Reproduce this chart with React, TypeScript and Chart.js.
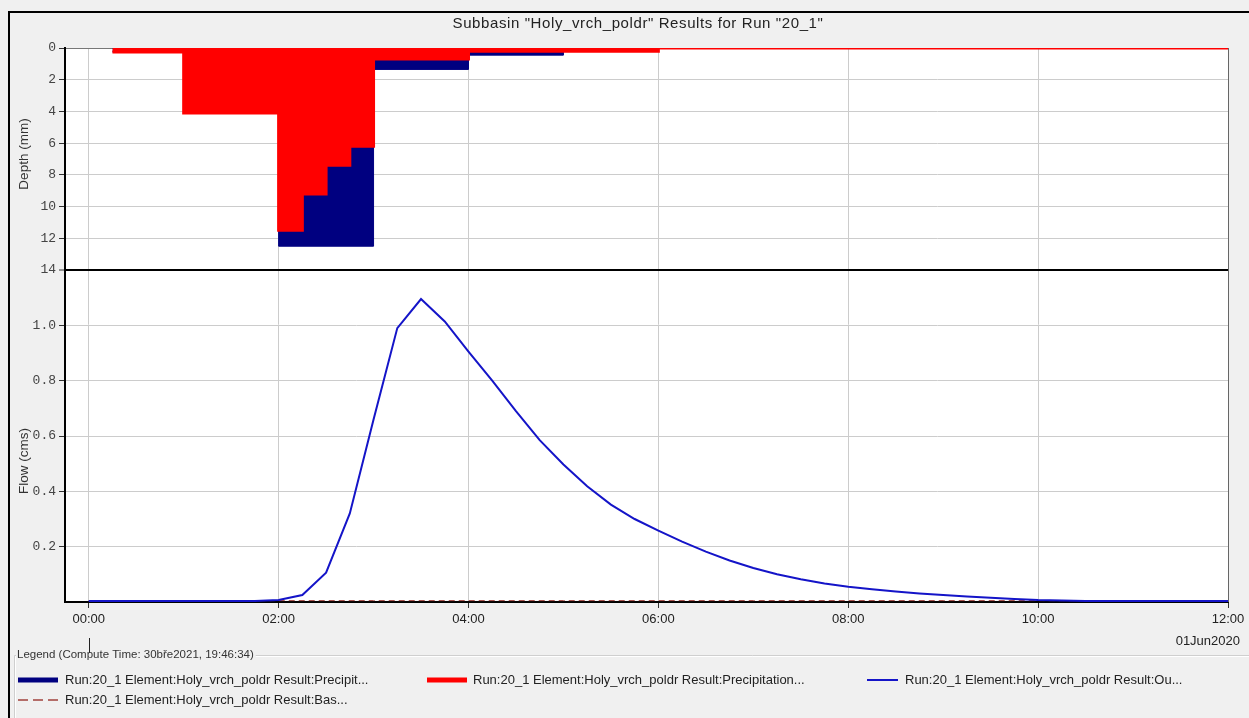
import React, { useEffect, useRef } from "react";
import { Chart, registerables } from "chart.js";

Chart.register(...registerables);

// ---------- text ----------
const chartTitle = 'Subbasin "Holy_vrch_poldr" Results for Run "20_1"';
const depthTitle = "Depth (mm)";
const flowTitle = "Flow (cms)";
const dateLabel = "01Jun2020";
const legendCaption = "Legend (Compute Time: 30bře2021, 19:46:34)";
const legendLabels = [
  "Run:20_1 Element:Holy_vrch_poldr Result:Precipit...",
  "Run:20_1 Element:Holy_vrch_poldr Result:Precipitation...",
  "Run:20_1 Element:Holy_vrch_poldr Result:Ou...",
  "Run:20_1 Element:Holy_vrch_poldr Result:Bas...",
];

// ---------- ticks ----------
const xTickHours = [0, 2, 4, 6, 8, 10, 12];
const depthTicks = [0, 2, 4, 6, 8, 10, 12, 14];
const flowTicks = [0.2, 0.4, 0.6, 0.8, 1.0];

// ---------- data ----------
// precipitation (total) – value held from the listed time to the next one
const precipTimes = ["00:15", "01:00", "02:00", "03:00", "04:00", "05:00", "06:00", "12:00"];
const precipDepth = [0.25, 4.1, 12.5, 1.35, 0.45, 0.2, 0, 0];

// precipitation loss – value held from the listed time to the next one
const lossTimes = ["00:15", "01:00", "02:00", "02:15", "02:30", "02:45", "03:00", "04:00", "05:00", "06:00", "12:00"];
const lossDepth = [0.25, 4.1, 11.5, 9.2, 7.4, 6.2, 0.7, 0.2, 0.2, 0, 0];

const flowTimes = [
  "00:00", "00:15", "00:30", "00:45", "01:00", "01:15", "01:30", "01:45",
  "02:00", "02:15", "02:30", "02:45", "03:00", "03:15", "03:30", "03:45",
  "04:00", "04:15", "04:30", "04:45", "05:00", "05:15", "05:30", "05:45",
  "06:00", "06:15", "06:30", "06:45", "07:00", "07:15", "07:30", "07:45",
  "08:00", "08:15", "08:30", "08:45", "09:00", "09:15", "09:30", "09:45",
  "10:00", "10:15", "10:30", "10:45", "11:00", "11:15", "11:30", "11:45",
  "12:00",
];
const outflow = [
  0.004, 0.004, 0.004, 0.004, 0.004, 0.004, 0.004, 0.004,
  0.007, 0.025, 0.106, 0.32, 0.66, 0.99, 1.095, 1.014,
  0.905, 0.8, 0.69, 0.585, 0.497, 0.418, 0.352, 0.3,
  0.258, 0.218, 0.182, 0.15, 0.123, 0.1, 0.082, 0.067,
  0.055, 0.046, 0.038, 0.031, 0.025, 0.02, 0.015, 0.011,
  0.007, 0.005, 0.004, 0.004, 0.004, 0.004, 0.004, 0.004,
  0.004,
];

const baseflowTimes = ["00:00", "01:00", "02:00", "03:00", "04:00", "05:00", "06:00", "07:00", "08:00", "09:00", "10:00", "11:00", "12:00"];
const baseflow = [0.005, 0.005, 0.005, 0.005, 0.005, 0.005, 0.005, 0.005, 0.005, 0.005, 0.005, 0.005, 0.005];

// ---------- helpers ----------
const toHours = (t: string) => {
  const [h, m] = t.split(":").map(Number);
  return h + m / 60;
};
const pts = (times: string[], vals: number[]) => times.map((t, i) => ({ x: toHours(t), y: vals[i] }));
const fmtHour = (v: number) => String(v).padStart(2, "0") + ":00";

const COLORS = {
  precip: "#000080",
  loss: "#ff0000",
  flow: "#1414c8",
  base: "#a0413c",
};

const SANS = "'Liberation Sans', Arial, sans-serif";
const MONO = "'Liberation Mono', 'Courier New', monospace";

const decorPlugin = {
  id: "decor",
  beforeDraw(chart: any) {
    const { ctx, width, height, chartArea } = chart;
    ctx.save();
    ctx.fillStyle = "#f0f0f0";
    ctx.fillRect(0, 0, width, height);
    ctx.fillStyle = "#ffffff";
    ctx.fillRect(chartArea.left, chartArea.top, chartArea.right - chartArea.left, chartArea.bottom - chartArea.top);
    // outer frame (left and top)
    ctx.fillStyle = "#000";
    ctx.fillRect(8, 11, 2, height - 11);
    ctx.fillRect(8, 11, width - 8, 2);
    ctx.restore();
  },
  afterDraw(chart: any) {
    const { ctx, chartArea, width, height } = chart;
    const xs = chart.scales.x;
    ctx.save();
    // right frame of plot
    ctx.strokeStyle = "#666";
    ctx.lineWidth = 1;
    ctx.beginPath();
    ctx.moveTo(Math.round(chartArea.right) + 0.5, chartArea.top);
    ctx.lineTo(Math.round(chartArea.right) + 0.5, chartArea.bottom);
    ctx.stroke();

    // title
    ctx.fillStyle = "#222";
    ctx.font = `15px ${SANS}`;
    ctx.textAlign = "center";
    ctx.textBaseline = "middle";
    try { (ctx as any).letterSpacing = "0.6px"; } catch (e) {}
    ctx.fillText(chartTitle, 638, 24);
    try { (ctx as any).letterSpacing = "0px"; } catch (e) {}

    // y titles
    const yd = chart.scales.yDepth;
    const yf = chart.scales.yFlow;
    ctx.font = `13.5px ${SANS}`;
    ctx.fillStyle = "#333";
    ctx.save();
    ctx.translate(24, (yd.top + yd.bottom) / 2 - 5);
    ctx.rotate(-Math.PI / 2);
    ctx.fillText(depthTitle, 0, 0);
    ctx.restore();
    ctx.save();
    ctx.translate(24, yf.top + (yf.bottom - yf.top) * 0.575);
    ctx.rotate(-Math.PI / 2);
    ctx.fillText(flowTitle, 0, 0);
    ctx.restore();

    // date label under last tick
    ctx.font = `13px ${SANS}`;
    ctx.fillStyle = "#222";
    ctx.textAlign = "right";
    ctx.fillText(dateLabel, 1240, 641);

    // long marker under 00:00
    const x0 = Math.round(xs.getPixelForValue(0)) + 0.5;
    ctx.strokeStyle = "#222";
    ctx.beginPath();
    ctx.moveTo(x0, 638);
    ctx.lineTo(x0, 653);
    ctx.stroke();

    // legend group box
    ctx.font = `11.5px ${SANS}`;
    ctx.textAlign = "left";
    ctx.fillStyle = "#333";
    const capX = 17;
    const capY = 655;
    ctx.fillText(legendCaption, capX, capY);
    const capW = ctx.measureText(legendCaption).width;
    ctx.strokeStyle = "#cfcfcf";
    ctx.beginPath();
    ctx.moveTo(width, capY + 0.5);
    ctx.lineTo(capX + capW + 2, capY + 0.5);
    ctx.moveTo(capX - 1, capY + 0.5);
    ctx.lineTo(14.5, capY + 0.5);
    ctx.lineTo(14.5, height);
    ctx.stroke();
    ctx.strokeStyle = "#ffffff";
    ctx.beginPath();
    ctx.moveTo(width, capY + 1.5);
    ctx.lineTo(capX + capW + 2, capY + 1.5);
    ctx.moveTo(capX - 1, capY + 1.5);
    ctx.lineTo(15.5, capY + 1.5);
    ctx.lineTo(15.5, height);
    ctx.stroke();

    const items = [
      { color: COLORS.precip, lw: 5, dash: [] as number[], x: 18, w: 40, tx: 65, y: 680, label: legendLabels[0] },
      { color: COLORS.loss, lw: 5, dash: [] as number[], x: 427, w: 40, tx: 473, y: 680, label: legendLabels[1] },
      { color: COLORS.flow, lw: 2, dash: [] as number[], x: 867, w: 31, tx: 905, y: 680, label: legendLabels[2] },
      { color: COLORS.base, lw: 1.5, dash: [10, 5], x: 18, w: 40, tx: 65, y: 700, label: legendLabels[3] },
    ];
    ctx.font = `13px ${SANS}`;
    ctx.textBaseline = "middle";
    for (const it of items) {
      ctx.strokeStyle = it.color;
      ctx.lineWidth = it.lw;
      ctx.setLineDash(it.dash);
      ctx.beginPath();
      ctx.moveTo(it.x, it.y);
      ctx.lineTo(it.x + it.w, it.y);
      ctx.stroke();
      ctx.setLineDash([]);
      ctx.fillStyle = "#222";
      ctx.fillText(it.label, it.tx, it.y);
    }
    ctx.restore();
  },
};

export default function App() {
  const ref = useRef<HTMLCanvasElement | null>(null);

  useEffect(() => {
    if (!ref.current) return;
    const chart = new Chart(ref.current, {
      type: "line",
      data: {
        datasets: [
          {
            label: legendLabels[2],
            data: pts(flowTimes, outflow),
            yAxisID: "yFlow",
            borderColor: COLORS.flow,
            borderWidth: 2,
            pointRadius: 0,
            fill: false,
            tension: 0,
            order: 0,
          },
          {
            label: legendLabels[3],
            data: pts(baseflowTimes, baseflow),
            yAxisID: "yFlow",
            borderColor: COLORS.base,
            borderWidth: 1,
            borderDash: [6, 4],
            pointRadius: 0,
            fill: false,
            order: 1,
          },
          {
            label: legendLabels[1],
            data: pts(lossTimes, lossDepth),
            yAxisID: "yDepth",
            stepped: true,
            fill: "origin",
            backgroundColor: COLORS.loss,
            borderColor: COLORS.loss,
            borderWidth: 3,
            pointRadius: 0,
            clip: 0,
            order: 2,
          },
          {
            label: legendLabels[0],
            data: pts(precipTimes, precipDepth),
            yAxisID: "yDepth",
            stepped: true,
            fill: "origin",
            backgroundColor: COLORS.precip,
            borderColor: COLORS.precip,
            borderWidth: 1,
            pointRadius: 0,
            clip: 0,
            order: 3,
          },
        ],
      } as any,
      options: {
        responsive: false,
        maintainAspectRatio: false,
        animation: false,
        layout: { padding: { left: 10, right: 21, top: 48, bottom: 0 } },
        plugins: {
          legend: { display: false },
          title: { display: false },
          tooltip: { enabled: false },
        },
        scales: {
          x: {
            type: "linear",
            min: -0.25,
            max: 12,
            afterBuildTicks: (s: any) => {
              s.ticks = xTickHours.map((v) => ({ value: v }));
            },
            afterFit: (s: any) => {
              s.height = 116;
            },
            ticks: {
              callback: (v: any) => fmtHour(Number(v)),
              font: { family: SANS, size: 13 },
              color: "#222",
              padding: 4,
              maxRotation: 0,
              autoSkip: false,
            },
            grid: { color: "#cccccc", tickColor: "#333", tickLength: 6, lineWidth: 1, tickWidth: 1 },
            border: { color: "#000", width: 2 },
          },
          yDepth: {
            type: "linear",
            position: "left",
            stack: "ystack",
            stackWeight: 222,
            weight: 1,
            reverse: true,
            min: 0,
            max: 14,
            afterBuildTicks: (s: any) => {
              s.ticks = depthTicks.map((v) => ({ value: v }));
            },
            afterFit: (s: any) => {
              s.width = 55;
            },
            ticks: {
              font: { family: MONO, size: 13 },
              color: "#444",
              padding: 3,
            },
            grid: {
              color: (c: any) => (c.tick && c.tick.value === 14 ? "#000" : c.tick && c.tick.value === 0 ? "#777" : "#cccccc"),
              lineWidth: (c: any) => (c.tick && c.tick.value === 14 ? 2 : 1),
              tickColor: "#333",
              tickLength: 6,
              tickWidth: 1,
            },
            border: { color: "#000", width: 2 },
          },
          yFlow: {
            type: "linear",
            position: "left",
            stack: "ystack",
            stackWeight: 332,
            weight: 0,
            min: 0,
            max: 1.2,
            afterBuildTicks: (s: any) => {
              s.ticks = flowTicks.map((v) => ({ value: v }));
            },
            afterFit: (s: any) => {
              s.width = 55;
            },
            ticks: {
              callback: (v: any) => Number(v).toFixed(1),
              font: { family: MONO, size: 13 },
              color: "#444",
              padding: 3,
            },
            grid: { color: "#cccccc", tickColor: "#333", tickLength: 6, lineWidth: 1, tickWidth: 1 },
            border: { color: "#000", width: 2 },
          },
        },
      } as any,
      plugins: [decorPlugin],
    });
    return () => chart.destroy();
  }, []);

  return (
    <canvas
      ref={ref}
      width={1249}
      height={718}
      style={{ position: "fixed", left: 0, top: 0, width: 1249, height: 718 }}
    />
  );
}
